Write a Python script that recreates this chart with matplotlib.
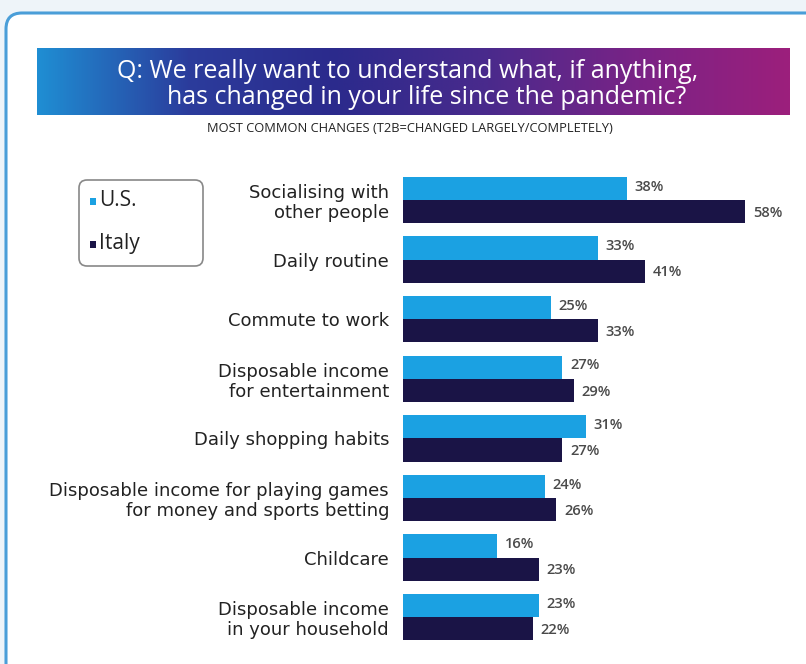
import numpy as np
import matplotlib.pyplot as plt
from matplotlib.patches import FancyBboxPatch, Rectangle
from matplotlib.colors import LinearSegmentedColormap

categories = ["Socialising with\nother people", "Daily routine", "Commute to work",
              "Disposable income\nfor entertainment", "Daily shopping habits",
              "Disposable income for playing games\nfor money and sports betting",
              "Childcare", "Disposable income\nin your household"]
us = [38, 33, 25, 27, 31, 24, 16, 23]
italy = [58, 41, 33, 29, 27, 26, 23, 22]
series_names = ["U.S.", "Italy"]

c_us = "#1ba1e2"
c_it = "#1a1446"
plt.rcParams['font.family'] = ['Open Sans', 'DejaVu Sans']

W, H = 806, 664
fig = plt.figure(figsize=(W / 100, H / 100), dpi=100)
fig.patch.set_facecolor("#eef4f9")

# background drawing layer in pixel coords
bg = fig.add_axes([0, 0, 1, 1])
bg.set_xlim(0, W)
bg.set_ylim(H, 0)
bg.axis("off")

card = FancyBboxPatch((6, 13), 840, 700, boxstyle="round,pad=0,rounding_size=16",
                      facecolor="white", edgecolor="#4a9ed8", linewidth=2.2)
bg.add_patch(card)

grad = LinearSegmentedColormap.from_list(
    "banner", ["#1f8ed3", "#2b3c9c", "#2c2a8c", "#4a2a8c", "#7a2386", "#9c1f7c"])
bg.imshow(np.linspace(0, 1, 256)[None, :], cmap=grad, aspect="auto",
          extent=[37, 790, 115, 48], zorder=2)
bg.text(408, 71, "Q: We really want to understand what, if anything,", color="white",
        fontsize=18, ha="center", va="center", zorder=3)
bg.text(427, 97, "has changed in your life since the pandemic?", color="white",
        fontsize=18, ha="center", va="center", zorder=3)
bg.text(410, 129, "MOST COMMON CHANGES (T2B=CHANGED LARGELY/COMPLETELY)", color="#222222",
        fontsize=9.3, ha="center", va="center", zorder=3)

# legend box
leg = FancyBboxPatch((79, 180), 124, 86, boxstyle="round,pad=0,rounding_size=8",
                     facecolor="white", edgecolor="#888888", linewidth=1.2)
bg.add_patch(leg)
for yy, col, name in [(201, c_us, series_names[0]), (244, c_it, series_names[1])]:
    bg.add_patch(Rectangle((90, yy - 3.5), 6, 7, facecolor=col, edgecolor="none"))
    bg.text(99, yy, name, fontsize=15, color="#222222", va="center", ha="left")

# bar chart
step = 59.6
top_px = 200 - step / 2
ax = fig.add_axes([403 / W, 1 - (top_px + 8 * step) / H, (795 - 403) / W, 8 * step / H])
ax.set_facecolor("none")
y = np.arange(len(categories))
h = 0.39
ax.barh(y - h / 2, us, height=h, color=c_us)
ax.barh(y + h / 2, italy, height=h, color=c_it)
ax.set_xlim(0, (795 - 403) / 5.9)
ax.set_ylim(len(categories) - 0.5, -0.5)
ax.set_yticks(y)
ax.set_yticklabels(categories, fontsize=13, color="#222222", linespacing=1.15,
                   family=["DejaVu Sans"])
ax.tick_params(axis="y", length=0, pad=10)
ax.set_xticks([])
for s in ax.spines.values():
    s.set_visible(False)
for i in range(len(categories)):
    ax.annotate(f"{us[i]}%", (us[i], y[i] - h / 2 - 0.03), xytext=(5.5, 0), textcoords="offset points",
                va="center", ha="left", fontsize=10.5, fontweight="semibold", color="#4a4a4a")
    ax.annotate(f"{italy[i]}%", (italy[i], y[i] + h / 2 + 0.02), xytext=(5.5, 0), textcoords="offset points",
                va="center", ha="left", fontsize=10.5, fontweight="semibold", color="#4a4a4a")

fig.savefig("out.png", dpi=100, facecolor=fig.get_facecolor())
